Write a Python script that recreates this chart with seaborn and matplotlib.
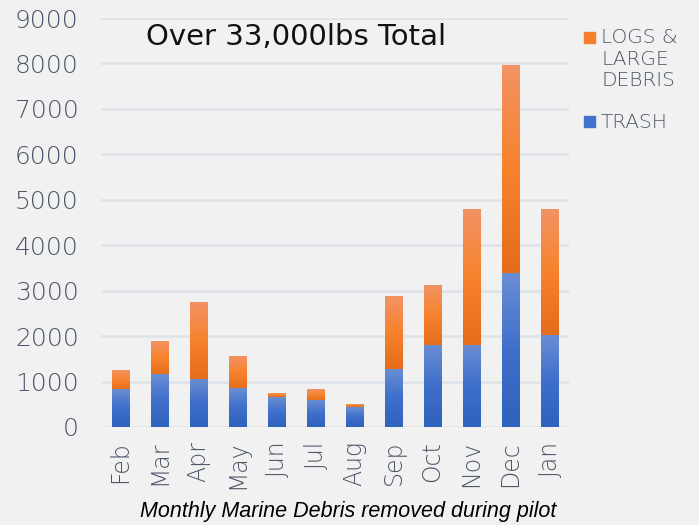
"""Monthly marine debris stacked bars."""
import matplotlib
matplotlib.use("Agg")
import matplotlib.pyplot as plt
from matplotlib.colors import LinearSegmentedColormap
from matplotlib.patches import Rectangle
import numpy as np
import pandas as pd
import seaborn as sns

months = ["Feb", "Mar", "Apr", "May", "Jun", "Jul", "Aug", "Sep", "Oct", "Nov", "Dec", "Jan"]
trash = [820, 1150, 1040, 840, 650, 575, 430, 1265, 1790, 1790, 3380, 2010]
logs = [430, 740, 1710, 720, 80, 260, 55, 1595, 1335, 3010, 4570, 2790]

df = pd.DataFrame({"month": months, "trash": trash, "logs": logs})
df["total"] = df["trash"] + df["logs"]

bg = "#f1f1f1"
tick_col = "#4a5568"

sns.set_theme(style="white")
plt.rcParams["font.family"] = ["DejaVu Sans"]
plt.rcParams["font.weight"] = "light"

fig = plt.figure(figsize=(6.99, 5.25), dpi=100, facecolor=bg)
ax = fig.add_axes([0.1445, 0.1867, 0.6695, 0.779])
ax.set_facecolor(bg)

sns.barplot(data=df, x="month", y="total", color="#f47f2c", width=0.44,
            saturation=1, ax=ax, zorder=2)
sns.barplot(data=df, x="month", y="trash", color="#4372cc", width=0.44,
            saturation=1, ax=ax, zorder=3)

# gradients on top of the bars
orange_cm = LinearSegmentedColormap.from_list("o", ["#e46c1a", "#f7822c", "#f29364"])
blue_cm = LinearSegmentedColormap.from_list("b", ["#2f62bd", "#3e6fcb", "#6a8ed3"])
grad = np.linspace(0, 1, 256).reshape(-1, 1)
n = len(months)
for i, p in enumerate(ax.patches[:n]):
    x0, w = p.get_x(), p.get_width()
    ax.imshow(grad, cmap=orange_cm, origin="lower", aspect="auto",
              extent=[x0, x0 + w, df["trash"][i], df["total"][i]], zorder=4)
    p.set_alpha(0)
for i, p in enumerate(ax.patches[n:2 * n]):
    x0, w = p.get_x(), p.get_width()
    ax.imshow(grad, cmap=blue_cm, origin="lower", aspect="auto",
              extent=[x0, x0 + w, 0, df["trash"][i]], zorder=4)
    p.set_alpha(0)

ax.set_xlim(-0.5, n - 0.5)
ax.set_ylim(0, 9000)
ax.set_yticks(range(0, 9001, 1000))
ax.yaxis.grid(True, color="#dfe4ea", linewidth=2, zorder=0)
ax.set_axisbelow(True)
sns.despine(ax=ax, left=True, bottom=True)
ax.tick_params(axis="both", length=0, colors=tick_col)
ax.tick_params(axis="y", pad=16, labelsize=18)
ax.tick_params(axis="x", pad=10, labelsize=17, labelrotation=90)
ax.set_xlabel("")
ax.set_ylabel("")

ax.text(146 / 699, 1 - 37 / 525, "Over 33,000lbs Total", transform=fig.transFigure,
        ha="left", va="center", fontsize=21, weight="normal", color="#111111")

# legend
fig.patches.append(Rectangle((584 / 699, 1 - 43 / 525), 11 / 699, 11 / 525,
                             transform=fig.transFigure, color="#f47f2c"))
fig.patches.append(Rectangle((584 / 699, 1 - 127 / 525), 11 / 699, 11 / 525,
                             transform=fig.transFigure, color="#4372cc"))
fig.text(601 / 699, 1 - 28 / 525, "LOGS &\nLARGE\nDEBRIS", va="top", ha="left",
         fontsize=14.5, color=tick_col, linespacing=1.17)
fig.text(601 / 699, 1 - 122 / 525, "TRASH", va="center", ha="left",
         fontsize=14.5, color=tick_col)

fig.text(348 / 699, 1 - 511 / 525, "Monthly Marine Debris removed during pilot",
         ha="center", va="center", fontsize=15.5, style="italic",
         family="Liberation Sans", weight="normal", color="black")

fig.savefig("out.png", dpi=100, facecolor=bg)
